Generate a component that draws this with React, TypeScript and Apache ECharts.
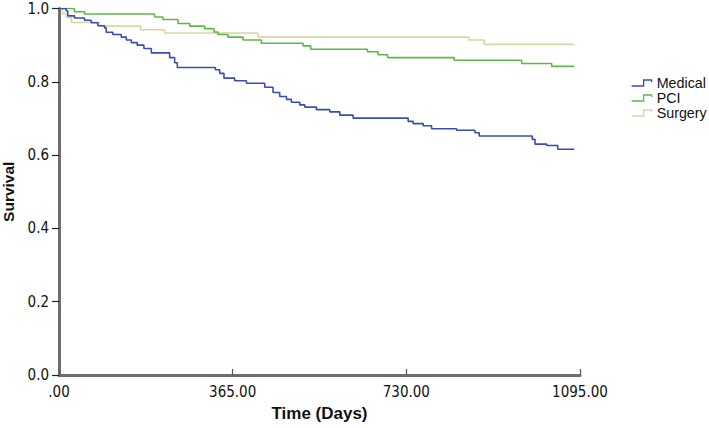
import React, { useEffect, useRef } from "react";
import * as echarts from "echarts";

// Kaplan-Meier step points: day at which survival changes, and new survival value
const medicalDays = [0, 15, 18.5, 32.6, 53.6, 67.7, 81.6, 95.7, 99.3, 113.2, 130.9, 141.4, 151.9, 164.5, 178.4, 194, 232.5, 243, 248.7, 328.6, 337.7, 346.7, 369.2, 393.9, 432.4, 449.8, 463.9, 478, 488.5, 506, 516.5, 541.1, 569.1, 590.2, 618.1, 733.8, 744.4, 765.4, 783.1, 835.7, 874.2, 883.2, 994.7, 1000.4, 1025, 1048.2, 1083];
const medicalSurv = [1.0, 0.993, 0.98, 0.974, 0.968, 0.961, 0.953, 0.947, 0.935, 0.929, 0.922, 0.914, 0.907, 0.9, 0.891, 0.879, 0.866, 0.852, 0.839, 0.833, 0.823, 0.81, 0.803, 0.796, 0.785, 0.771, 0.76, 0.752, 0.744, 0.737, 0.731, 0.724, 0.718, 0.709, 0.701, 0.692, 0.686, 0.68, 0.672, 0.668, 0.661, 0.652, 0.643, 0.63, 0.626, 0.616, 0.616];

const pciDays = [0, 32.6, 53.6, 200.9, 218.4, 250, 274.6, 306.1, 325.7, 334.1, 355.1, 386.7, 425.4, 513, 529.1, 648.4, 670.7, 690.5, 830.6, 972.4, 1035.6, 1083];
const pciSurv = [1.0, 0.991, 0.985, 0.977, 0.97, 0.959, 0.952, 0.945, 0.936, 0.929, 0.922, 0.914, 0.905, 0.898, 0.889, 0.882, 0.874, 0.866, 0.859, 0.85, 0.842, 0.842];

const surgeryDays = [0, 7.4, 15.8, 26.3, 85.2, 171.5, 222, 418.3, 861.6, 893.7, 1083];
const surgerySurv = [1.0, 0.985, 0.975, 0.962, 0.952, 0.942, 0.933, 0.922, 0.914, 0.902, 0.902];

const seriesNames = ["Medical", "PCI", "Surgery"];
const seriesColors = ["#3b4db3", "#5cb947", "#d8d7a3"];
const xTicks = [0, 365, 730, 1095];
const yTicks = [0, 0.2, 0.4, 0.6, 0.8, 1.0];

const zip = (xs: number[], ys: number[]) => xs.map((x, i) => [x, ys[i]]);

const legendIcon = "path://M0,6 L12,6 L12,0 L20,0 L20,2";

export default function App() {
  const ref = useRef<HTMLDivElement>(null);
  useEffect(() => {
    document.body.style.margin = "0";
    const chart = echarts.init(ref.current!, null, { renderer: "svg" });
    const dataSets = [zip(medicalDays, medicalSurv), zip(pciDays, pciSurv), zip(surgeryDays, surgerySurv)];
    const tickFont = "'DejaVu Sans Condensed', 'Liberation Sans Narrow', 'Liberation Sans', sans-serif";
    const boldFont = "'Liberation Sans', Arial, sans-serif";
    chart.setOption({
      animation: false,
      backgroundColor: "#ffffff",
      grid: { left: 59, right: 129, top: 8.5, bottom: 53, containLabel: false, outerBoundsMode: "none" },
      legend: {
        orient: "vertical",
        left: 631,
        top: 76,
        padding: 0,
        itemWidth: 20,
        itemHeight: 7,
        itemGap: 1,
        selectedMode: false,
        textStyle: { fontFamily: boldFont, fontSize: 14.3, color: "#111", lineHeight: 14 },
        data: seriesNames.map((n, i) => ({
          name: n,
          icon: legendIcon,
          itemStyle: { color: "transparent", borderColor: seriesColors[i], borderWidth: 1.3 },
        })),
      },
      xAxis: {
        type: "value",
        min: xTicks[0],
        max: xTicks[xTicks.length - 1],
        interval: 365,
        name: "Time (Days)",
        nameLocation: "middle",
        nameGap: 30,
        nameTextStyle: { fontFamily: boldFont, fontSize: 17, fontWeight: "bold", color: "#111" },
        axisLine: { show: true, onZero: false, lineStyle: { color: "#6e6e6e", width: 3 } },
        axisTick: { show: true, inside: true, length: 6, lineStyle: { color: "#555", width: 1.2 } },
        axisLabel: {
          margin: 9,
          fontFamily: tickFont,
          fontSize: 15,
          color: "#111",
          formatter: (v: number) => (v === 0 ? ".00" : v.toFixed(2)),
        },
        splitLine: { show: false },
      },
      yAxis: {
        type: "value",
        min: yTicks[0],
        max: yTicks[yTicks.length - 1],
        interval: 0.2,
        name: "Survival",
        nameLocation: "middle",
        nameGap: 42,
        nameTextStyle: { fontFamily: boldFont, fontSize: 15.5, fontWeight: "bold", color: "#111" },
        axisLine: { show: true, onZero: false, lineStyle: { color: "#6e6e6e", width: 3 } },
        axisTick: { show: true, inside: false, length: 7, lineStyle: { color: "#222", width: 1.2 } },
        axisLabel: {
          margin: 10,
          fontFamily: tickFont,
          fontSize: 15,
          lineHeight: 12,
          color: "#111",
          formatter: (v: number) => v.toFixed(1),
        },
        splitLine: { show: false },
      },
      series: seriesNames.map((n, i) => ({
        name: n,
        type: "line",
        step: "end",
        data: dataSets[i],
        showSymbol: false,
        symbol: "none",
        lineStyle: { color: seriesColors[i], width: 1.6 },
        itemStyle: { color: seriesColors[i] },
        z: 3 - i,
      })),
    });
    return () => chart.dispose();
  }, []);
  return <div ref={ref} style={{ width: 709, height: 428 }} />;
}
